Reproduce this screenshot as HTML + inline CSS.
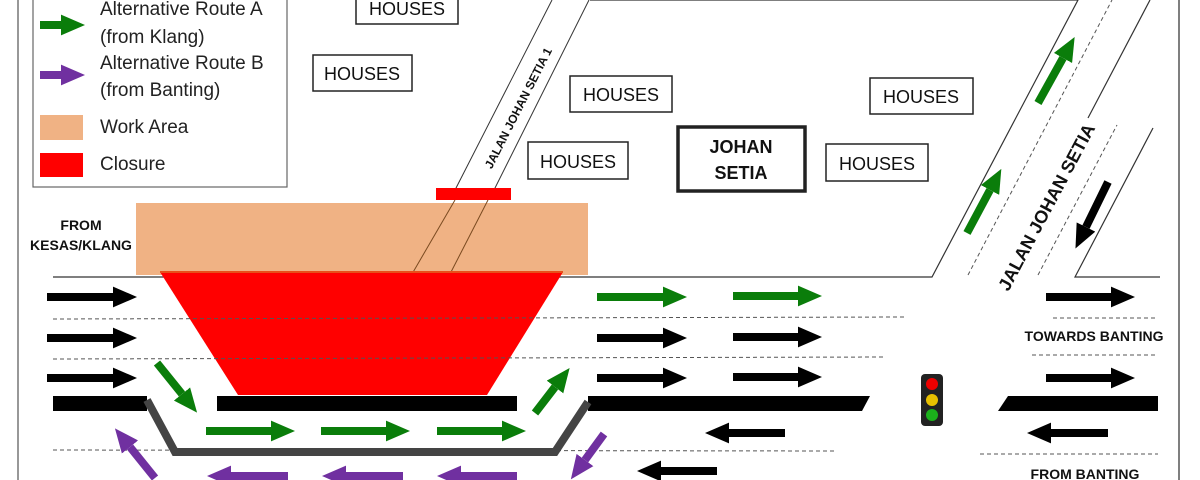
<!DOCTYPE html>
<html><head><meta charset="utf-8"><style>
html,body{margin:0;padding:0;background:#fff;}
svg{display:block;}
text{font-family:"Liberation Sans",sans-serif;}
</style></head><body>
<svg width="1200" height="480" viewBox="0 0 1200 480" xmlns="http://www.w3.org/2000/svg">
<defs>
<marker id="hk" markerWidth="3" markerHeight="2.6" refX="0" refY="1.3" orient="auto" markerUnits="strokeWidth"><path d="M0,0 L3,1.3 L0,2.6z" fill="#000"/></marker>
<marker id="hg" markerWidth="3" markerHeight="2.6" refX="0" refY="1.3" orient="auto" markerUnits="strokeWidth"><path d="M0,0 L3,1.3 L0,2.6z" fill="#0a7d0a"/></marker>
<marker id="hp" markerWidth="3" markerHeight="2.6" refX="0" refY="1.3" orient="auto" markerUnits="strokeWidth"><path d="M0,0 L3,1.3 L0,2.6z" fill="#7030a0"/></marker>
</defs>
<rect width="1200" height="480" fill="#fff"/>
<line x1="18" y1="0" x2="18" y2="480" stroke="#777" stroke-width="1.5"/>
<line x1="1179" y1="0" x2="1179" y2="480" stroke="#555" stroke-width="1.5"/>

<!-- legend -->
<rect x="33" y="-2" width="254" height="189" fill="#fff" stroke="#666" stroke-width="1.2"/>
<line x1="40" y1="25" x2="61" y2="25" stroke="#0a7d0a" stroke-width="8" marker-end="url(#hg)"/>
<line x1="40" y1="75" x2="61" y2="75" stroke="#7030a0" stroke-width="8" marker-end="url(#hp)"/>
<rect x="40" y="115" width="43" height="25" fill="#f0b284"/>
<rect x="40" y="153" width="43" height="24" fill="#ff0000"/>
<g font-size="19" fill="#222">
<text x="100" y="15">Alternative Route A</text>
<text x="100" y="43">(from Klang)</text>
<text x="100" y="69">Alternative Route B</text>
<text x="100" y="96">(from Banting)</text>
<text x="100" y="133">Work Area</text>
<text x="100" y="170">Closure</text>
</g>

<!-- houses -->
<g fill="#fff" stroke="#222" stroke-width="1.5">
<rect x="356" y="-4" width="102" height="28"/>
<rect x="313" y="55" width="99" height="36"/>
<rect x="570" y="76" width="102" height="36"/>
<rect x="528" y="142" width="100" height="37"/>
<rect x="870" y="78" width="103" height="36"/>
<rect x="826" y="144" width="102" height="37"/>
<rect x="678" y="127" width="127" height="64" stroke-width="3.5"/>
</g>
<g font-size="18" fill="#111" text-anchor="middle">
<text x="407" y="15">HOUSES</text>
<text x="362" y="80">HOUSES</text>
<text x="621" y="101">HOUSES</text>
<text x="578" y="168">HOUSES</text>
<text x="921" y="103">HOUSES</text>
<text x="877" y="170">HOUSES</text>
<text x="741" y="153" font-weight="bold">JOHAN</text>
<text x="741" y="179" font-weight="bold">SETIA</text>
</g>

<!-- block outline -->
<polyline points="590,0 1078,0 932,277 53,277" fill="none" stroke="#333" stroke-width="1.2"/>

<!-- work area & closure -->
<rect x="136" y="203" width="452" height="72" fill="#f0b284"/>
<line x1="455" y1="190" x2="552" y2="0" stroke="#333" stroke-width="1"/>
<line x1="494" y1="190" x2="589" y2="0" stroke="#333" stroke-width="1"/>
<line x1="455" y1="200" x2="412" y2="274" stroke="#7a4a20" stroke-width="1"/>
<line x1="488" y1="200" x2="450" y2="274" stroke="#7a4a20" stroke-width="1"/>
<rect x="436" y="188" width="75" height="12" fill="#ff0000"/>
<text transform="translate(522,110) rotate(-63)" font-size="12" font-weight="bold" text-anchor="middle" fill="#111">JALAN JOHAN SETIA 1</text>
<polygon points="160,272 563,272 487,395 238,395" fill="#ff0000"/>
<line x1="160" y1="272" x2="563" y2="272" stroke="#e8501a" stroke-width="2"/>
<g font-size="14" font-weight="bold" fill="#111" text-anchor="middle">
<text x="81" y="230">FROM</text>
<text x="81" y="250">KESAS/KLANG</text>
</g>

<!-- dashed lanes -->
<g stroke="#555" stroke-width="1" stroke-dasharray="4,3" fill="none">
<line x1="53" y1="319" x2="905" y2="317"/>
<line x1="53" y1="359" x2="885" y2="357"/>
<line x1="53" y1="450" x2="835" y2="451"/>
<line x1="1053" y1="318" x2="1158" y2="318"/>
<line x1="1032" y1="355" x2="1158" y2="355"/>
<line x1="980" y1="454" x2="1158" y2="454"/>
<line x1="968" y1="275" x2="1112" y2="0"/>
<line x1="1038" y1="275" x2="1117" y2="125"/>
</g>
<line x1="53" y1="277" x2="160" y2="277" stroke="#333" stroke-width="1"/>

<!-- right road -->
<g stroke="#333" stroke-width="1.2" fill="none">
<polyline points="1160,277 1075,277 1153,128"/>
<line x1="1088" y1="118" x2="1150" y2="0"/>
</g>
<text transform="translate(1052,210) rotate(-62)" font-size="18" font-weight="bold" text-anchor="middle" fill="#111">JALAN JOHAN SETIA</text>

<!-- barriers -->
<rect x="53" y="396" width="94" height="15" fill="#000"/>
<rect x="217" y="396" width="300" height="15" fill="#000"/>
<polygon points="588,396 870,396 862,411 588,411" fill="#000"/>
<polygon points="1008,396 1158,396 1158,411 998,411" fill="#000"/>
<polyline points="147,400 175,452 555,452 588,402" fill="none" stroke="#444" stroke-width="8" stroke-linejoin="miter"/>

<!-- black arrows -->
<g stroke="#000" stroke-width="8" marker-end="url(#hk)">
<line x1="47" y1="297" x2="113" y2="297"/>
<line x1="47" y1="338" x2="113" y2="338"/>
<line x1="47" y1="378" x2="113" y2="378"/>
<line x1="597" y1="338" x2="663" y2="338"/>
<line x1="733" y1="337" x2="798" y2="337"/>
<line x1="597" y1="378" x2="663" y2="378"/>
<line x1="733" y1="377" x2="798" y2="377"/>
<line x1="1046" y1="297" x2="1111" y2="297"/>
<line x1="1046" y1="378" x2="1111" y2="378"/>
<line x1="785" y1="433" x2="729" y2="433"/>
<line x1="717" y1="471" x2="661" y2="471"/>
<line x1="1108" y1="433" x2="1051" y2="433"/>
<line x1="1108" y1="182" x2="1086" y2="227"/>
</g>
<!-- green arrows -->
<g stroke="#0a7d0a" stroke-width="8" marker-end="url(#hg)">
<line x1="597" y1="297" x2="663" y2="297"/>
<line x1="733" y1="296" x2="798" y2="296"/>
<line x1="157" y1="363" x2="182" y2="394"/>
<line x1="206" y1="431" x2="271" y2="431"/>
<line x1="321" y1="431" x2="386" y2="431"/>
<line x1="437" y1="431" x2="502" y2="431"/>
<line x1="535" y1="413" x2="555" y2="387"/>
<line x1="967" y1="233" x2="990" y2="190"/>
<line x1="1038" y1="103" x2="1063" y2="58"/>
</g>
<!-- purple arrows -->
<g stroke="#7030a0" stroke-width="8" marker-end="url(#hp)">
<line x1="155" y1="478" x2="130" y2="447"/>
<line x1="288" y1="476" x2="231" y2="476"/>
<line x1="403" y1="476" x2="346" y2="476"/>
<line x1="517" y1="476" x2="461" y2="476"/>
<line x1="604" y1="434" x2="585" y2="460"/>
</g>

<!-- traffic light -->
<rect x="921" y="374" width="22" height="52" rx="4" fill="#222"/>
<circle cx="932" cy="384" r="6" fill="#e00"/>
<circle cx="932" cy="400" r="6" fill="#e8c000"/>
<circle cx="932" cy="415" r="6" fill="#1bb01b"/>

<g font-size="14" font-weight="bold" fill="#111" text-anchor="middle">
<text x="1094" y="341">TOWARDS BANTING</text>
<text x="1085" y="479">FROM BANTING</text>
</g>
</svg>
</body></html>
